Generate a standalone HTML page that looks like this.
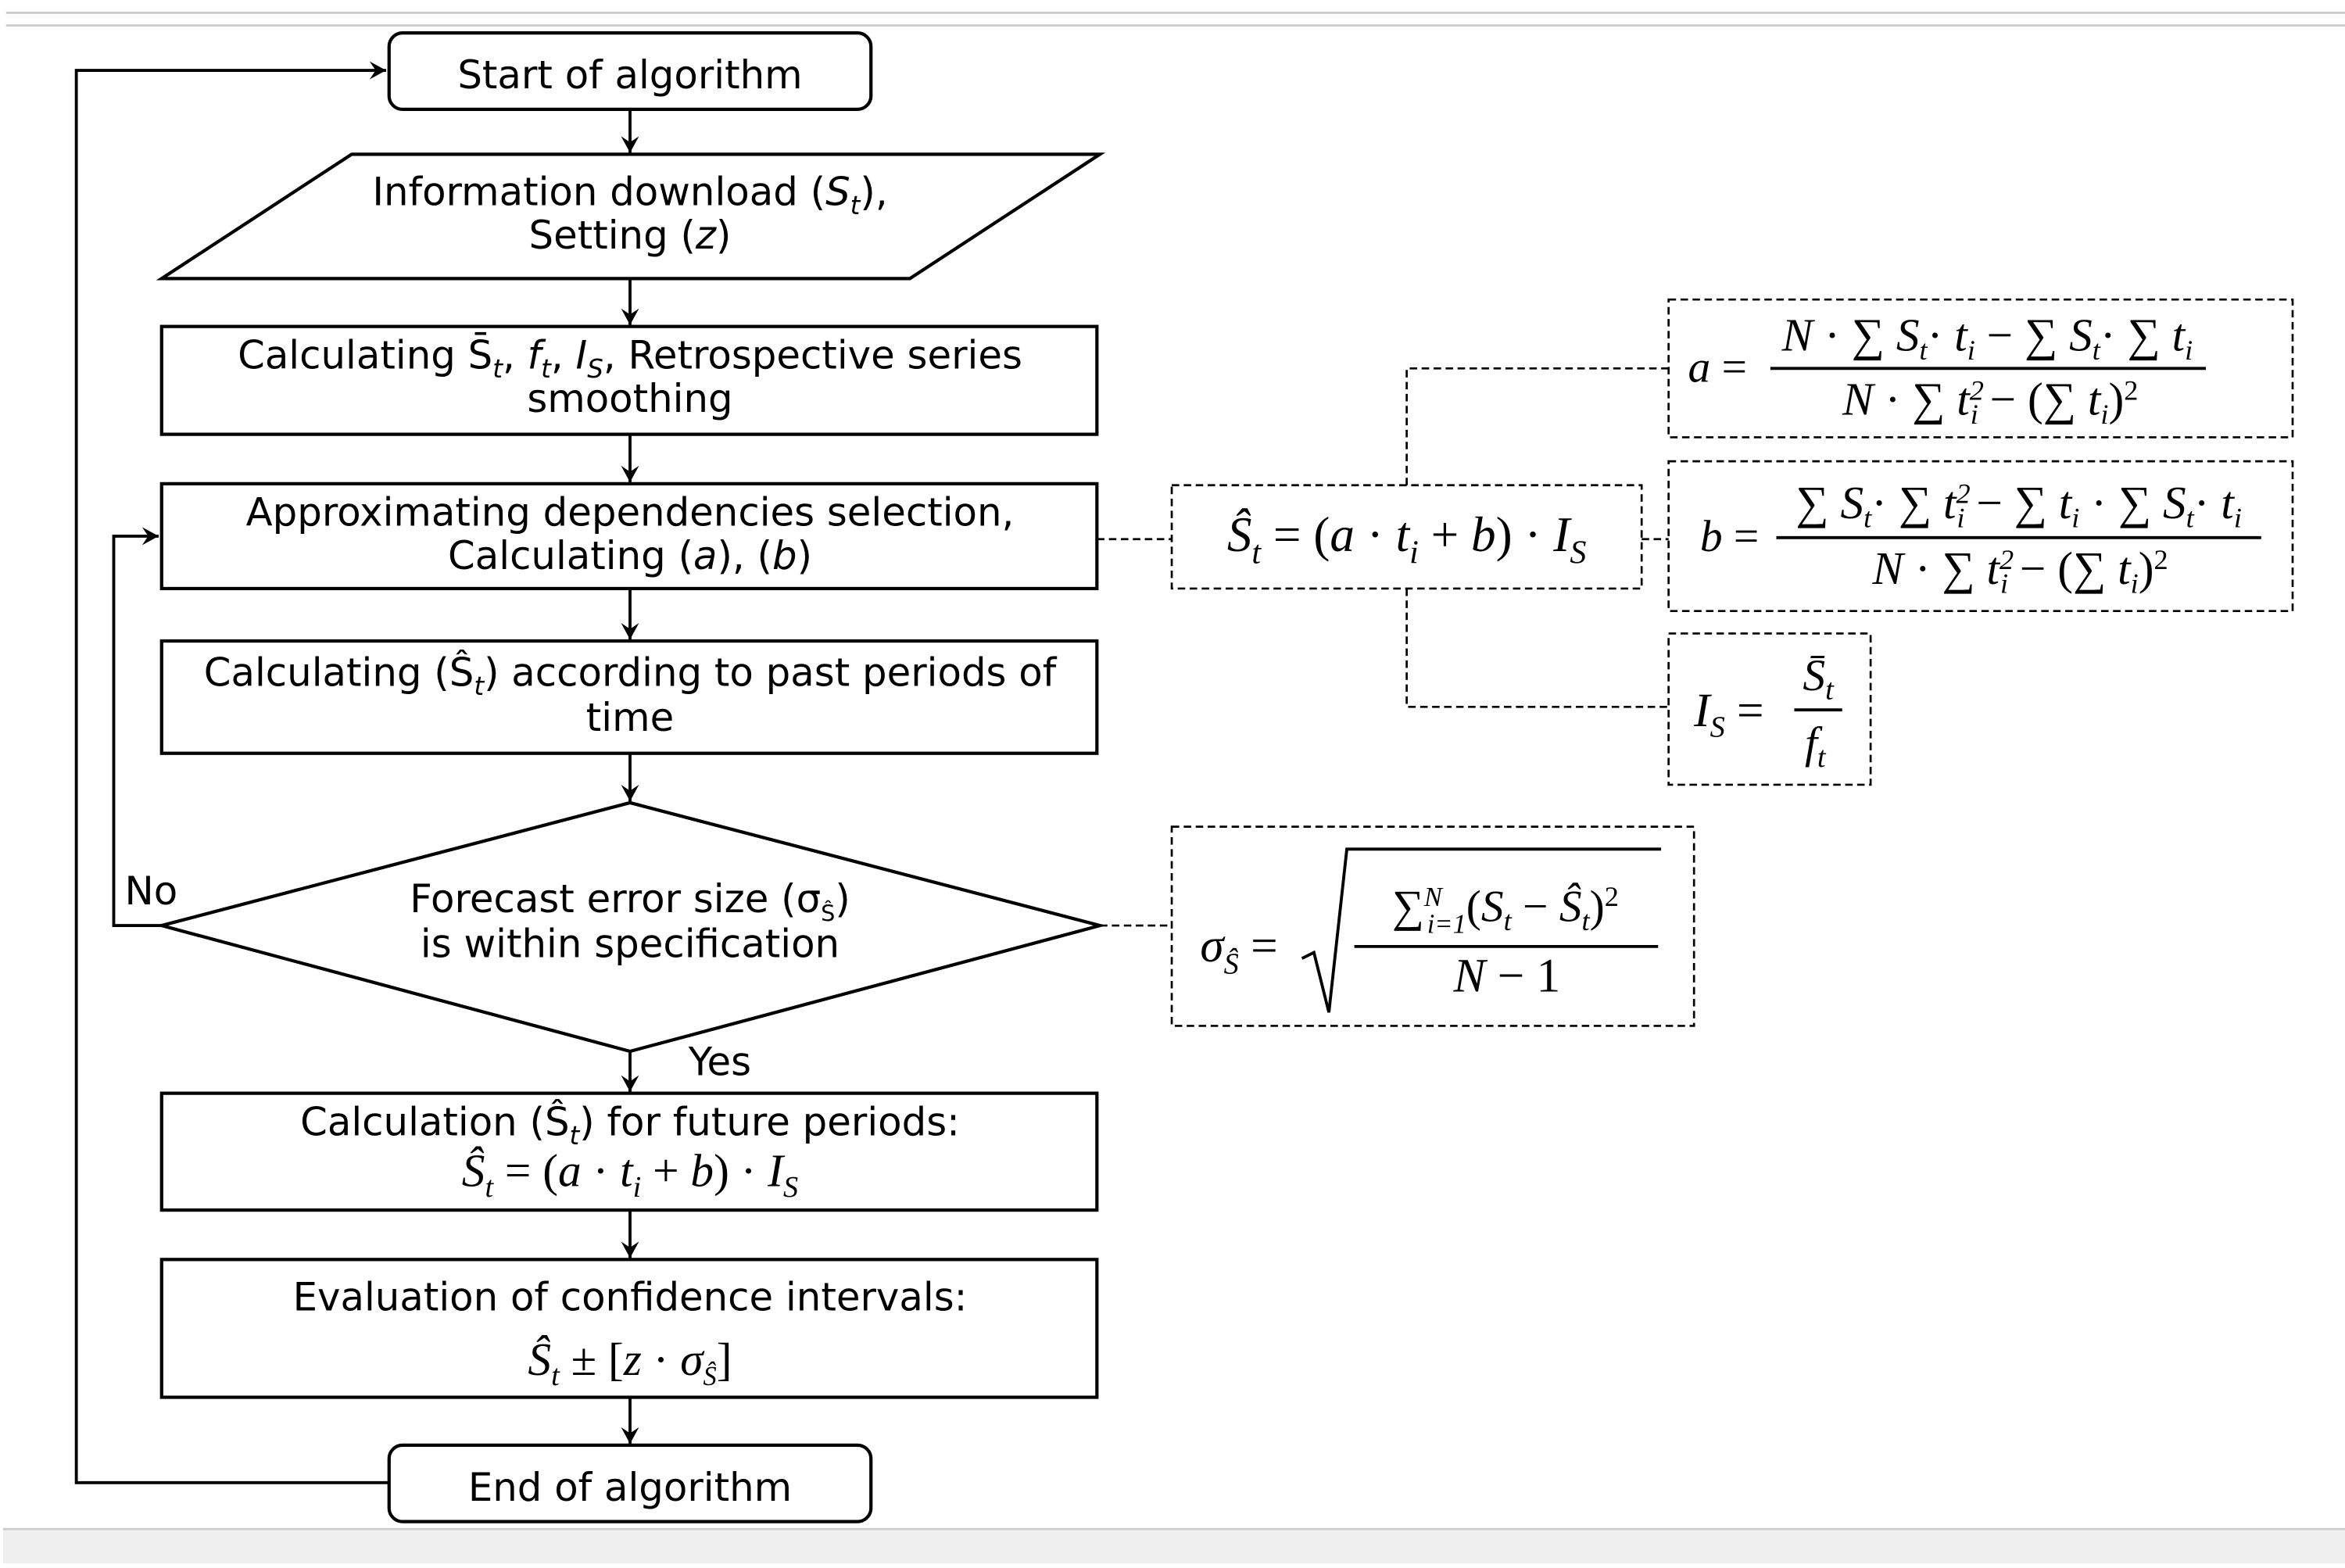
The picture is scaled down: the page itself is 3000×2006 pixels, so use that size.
<!DOCTYPE html>
<html><head><meta charset="utf-8"><style>
html,body{margin:0;padding:0;background:#fff;}
svg{display:block;}
.t{font-family:"DejaVu Sans","Liberation Sans",sans-serif;font-size:26px;fill:#000;text-anchor:middle;}
.m{font-family:"Liberation Serif",serif;font-style:italic;fill:#000;}
.n{font-style:normal;}
</style></head><body>
<svg width="3000" height="2006" viewBox="0 0 1567 1047" preserveAspectRatio="none" xmlns="http://www.w3.org/2000/svg">
<defs><marker id="a" markerWidth="12" markerHeight="12" refX="11" refY="6" orient="auto" markerUnits="userSpaceOnUse"><path d="M0,0 L11,6 L0,12 L4,6 Z" fill="#000"/></marker></defs>
<rect x="0" y="0" width="1567" height="1047" fill="#fff"/>
<line x1="4" y1="8.5" x2="1567" y2="8.5" stroke="#ccc" stroke-width="1.5"/>
<line x1="4" y1="17" x2="1567" y2="17" stroke="#ccc" stroke-width="1.5"/>
<rect x="2" y="1021" width="1565" height="23" fill="#efefef"/>
<line x1="2" y1="1021" x2="1567" y2="1021" stroke="#ccc" stroke-width="1.5"/>

<g fill="none" stroke="#000" stroke-width="2.2">
<rect x="260" y="22" width="322" height="51" rx="9"/>
<polygon points="108,186 235,103 735,103 608,186"/>
<rect x="108" y="218" width="625" height="72"/>
<rect x="108" y="323" width="625" height="70"/>
<rect x="108" y="428" width="625" height="75"/>
<polygon points="108,618 421,536 735,618 421,702"/>
<rect x="108" y="730" width="625" height="78"/>
<rect x="108" y="841" width="625" height="92"/>
<rect x="260" y="965" width="322" height="51" rx="9"/>
</g>
<g stroke="#000" stroke-width="2" fill="none">
<line x1="421" y1="73" x2="421" y2="102" marker-end="url(#a)"/>
<line x1="421" y1="186" x2="421" y2="217" marker-end="url(#a)"/>
<line x1="421" y1="290" x2="421" y2="322" marker-end="url(#a)"/>
<line x1="421" y1="393" x2="421" y2="427" marker-end="url(#a)"/>
<line x1="421" y1="503" x2="421" y2="535" marker-end="url(#a)"/>
<line x1="421" y1="702" x2="421" y2="729" marker-end="url(#a)"/>
<line x1="421" y1="808" x2="421" y2="840" marker-end="url(#a)"/>
<line x1="421" y1="933" x2="421" y2="964" marker-end="url(#a)"/>
<polyline points="260,990 51,990 51,47 258,47" marker-end="url(#a)"/>
<polyline points="108,618 76,618 76,358 106,358" marker-end="url(#a)"/>
</g>
<g stroke="#000" stroke-width="1.4" fill="none" stroke-dasharray="5,3">
<rect x="783" y="324" width="314" height="69"/>
<rect x="1115" y="200" width="417" height="92"/>
<rect x="1115" y="308" width="417" height="100"/>
<rect x="1115" y="423" width="135" height="101"/>
<rect x="783" y="552" width="349" height="133"/>
<line x1="733" y1="360" x2="783" y2="360"/>
<line x1="1097" y1="360" x2="1115" y2="360"/>
<polyline points="940,324 940,246 1115,246"/>
<polyline points="940,393 940,472 1115,472"/>
<line x1="735" y1="618" x2="783" y2="618"/>
</g>

<text class="t" x="421" y="59" font-size="27">Start of algorithm</text>
<text class="t" x="421" y="137">Information download (<tspan font-style="italic">S<tspan font-size="17" dy="6">t</tspan></tspan><tspan dy="-6">),</tspan></text>
<text class="t" x="421" y="166">Setting (<tspan font-style="italic">z</tspan>)</text>
<text class="t" x="421" y="246">Calculating S̄<tspan font-size="17" dy="6" font-style="italic">t</tspan><tspan dy="-6">, </tspan><tspan font-style="italic">f<tspan font-size="17" dy="6">t</tspan></tspan><tspan dy="-6">, </tspan><tspan font-style="italic">I<tspan font-size="17" dy="6">S</tspan></tspan><tspan dy="-6">, Retrospective series</tspan></text>
<text class="t" x="421" y="275">smoothing</text>
<text class="t" x="421" y="351">Approximating dependencies selection,</text>
<text class="t" x="421" y="380">Calculating (<tspan font-style="italic">a</tspan>), (<tspan font-style="italic">b</tspan>)</text>
<text class="t" x="421" y="458">Calculating (Ŝ<tspan font-size="17" dy="6" font-style="italic">t</tspan><tspan dy="-6">) according to past periods of</tspan></text>
<text class="t" x="421" y="488">time</text>
<text class="t" x="421" y="609">Forecast error size (σ<tspan font-size="15" dy="6">Ŝ</tspan><tspan dy="-6">)</tspan></text>
<text class="t" x="421" y="639">is within specification</text>
<text class="t" x="101" y="604" font-size="27">No</text>
<text class="t" x="481" y="718" font-size="27">Yes</text>
<text class="t" x="421" y="758">Calculation (Ŝ<tspan font-size="17" dy="6" font-style="italic">t</tspan><tspan dy="-6">) for future periods:</tspan></text>
<text class="m" x="421" y="792" font-size="31" text-anchor="middle">Ŝ<tspan font-size="20" dy="7">t</tspan><tspan class="n" dy="-7"> = (</tspan>a<tspan class="n"> · </tspan>t<tspan font-size="20" dy="7">i</tspan><tspan class="n" dy="-7"> + </tspan>b<tspan class="n">) · </tspan>I<tspan font-size="20" dy="7">S</tspan></text>
<text class="t" x="421" y="875">Evaluation of confidence intervals:</text>
<text class="m" x="421" y="918" font-size="31" text-anchor="middle">Ŝ<tspan font-size="20" dy="7">t</tspan><tspan class="n" dy="-7"> ± [</tspan>z<tspan class="n"> · </tspan>σ<tspan font-size="18" dy="7">Ŝ</tspan><tspan class="n" dy="-7">]</tspan></text>
<text class="t" x="421" y="1002" font-size="27">End of algorithm</text>

<text class="m" x="940" y="368" font-size="33" text-anchor="middle">Ŝ<tspan font-size="22" dy="8">t</tspan><tspan class="n" dy="-8"> = (</tspan>a<tspan class="n"> · </tspan>t<tspan font-size="22" dy="8">i</tspan><tspan class="n" dy="-8"> + </tspan>b<tspan class="n">) · </tspan>I<tspan font-size="22" dy="8">S</tspan></text>

<text class="m" x="1128" y="255" font-size="30">a <tspan class="n">=</tspan></text>
<line x1="1183" y1="246" x2="1474" y2="246" stroke="#000" stroke-width="2"/>
<text class="m" x="1328" y="234" font-size="31" text-anchor="middle">N <tspan class="n">· ∑</tspan> S<tspan font-size="19" dy="6">t</tspan><tspan class="n" dy="-6">·</tspan> t<tspan font-size="19" dy="6">i</tspan><tspan class="n" dy="-6"> − ∑ </tspan>S<tspan font-size="19" dy="6">t</tspan><tspan class="n" dy="-6">· ∑ </tspan>t<tspan font-size="19" dy="6">i</tspan></text>
<text class="m" x="1330" y="277" font-size="31" text-anchor="middle">N <tspan class="n">· ∑ </tspan>t<tspan font-size="19" dy="-10">2</tspan><tspan font-size="19" dx="-9" dy="16">i</tspan><tspan class="n" dy="-6"> − (∑ </tspan>t<tspan font-size="19" dy="6">i</tspan><tspan class="n" dy="-6">)</tspan><tspan class="n" font-size="19" dy="-10">2</tspan></text>

<text class="m" x="1136" y="368" font-size="30">b <tspan class="n">=</tspan></text>
<line x1="1187" y1="359" x2="1511" y2="359" stroke="#000" stroke-width="2"/>
<text class="m" x="1349" y="346" font-size="31" text-anchor="middle"><tspan class="n">∑ </tspan>S<tspan font-size="19" dy="6">t</tspan><tspan class="n" dy="-6">· ∑ </tspan>t<tspan font-size="19" dy="-10">2</tspan><tspan font-size="19" dx="-9" dy="16">i</tspan><tspan class="n" dy="-6"> − ∑ </tspan>t<tspan font-size="19" dy="6">i</tspan><tspan class="n" dy="-6"> · ∑ </tspan>S<tspan font-size="19" dy="6">t</tspan><tspan class="n" dy="-6">· </tspan>t<tspan font-size="19" dy="6">i</tspan></text>
<text class="m" x="1350" y="390" font-size="31" text-anchor="middle">N <tspan class="n">· ∑ </tspan>t<tspan font-size="19" dy="-10">2</tspan><tspan font-size="19" dx="-9" dy="16">i</tspan><tspan class="n" dy="-6"> − (∑ </tspan>t<tspan font-size="19" dy="6">i</tspan><tspan class="n" dy="-6">)</tspan><tspan class="n" font-size="19" dy="-10">2</tspan></text>

<text class="m" x="1132" y="485" font-size="32">I<tspan font-size="20" dy="7">S</tspan><tspan class="n" dy="-7"> =</tspan></text>
<line x1="1199" y1="474" x2="1231" y2="474" stroke="#000" stroke-width="2"/>
<text class="m" x="1215" y="461" font-size="30" text-anchor="middle">S̄<tspan font-size="20" dy="6">t</tspan></text>
<text class="m" x="1213" y="506" font-size="30" text-anchor="middle">f<tspan font-size="20" dy="6">t</tspan></text>

<text class="m" x="802" y="642" font-size="32">σ<tspan font-size="20" dy="8">Ŝ</tspan><tspan class="n" dy="-8"> =</tspan></text>
<polyline points="870,640 878,636 888,676 900,567 1110,567" fill="none" stroke="#000" stroke-width="2"/>
<line x1="905" y1="632" x2="1108" y2="632" stroke="#000" stroke-width="2"/>
<text class="m" x="1006" y="615" font-size="30" text-anchor="middle"><tspan class="n">∑</tspan><tspan font-size="18" dy="-10">N</tspan><tspan font-size="18" dx="-10" dy="18">i=1</tspan><tspan class="n" dy="-8">(</tspan>S<tspan font-size="19" dy="6">t</tspan><tspan class="n" dy="-6"> − </tspan>Ŝ<tspan font-size="19" dy="6">t</tspan><tspan class="n" dy="-6">)</tspan><tspan class="n" font-size="19" dy="-10">2</tspan></text>
<text class="m" x="1007" y="662" font-size="32" text-anchor="middle">N <tspan class="n">− 1</tspan></text>
</svg>
</body></html>
